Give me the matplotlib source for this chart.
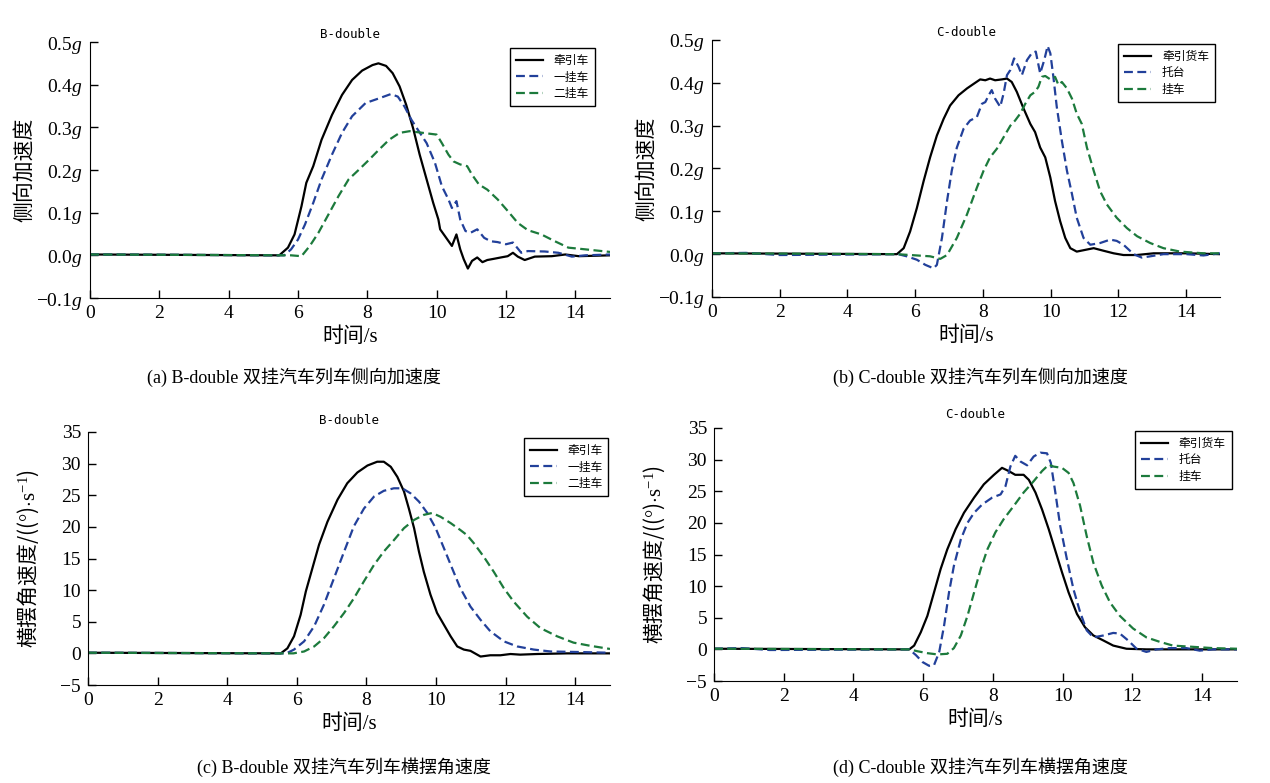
import matplotlib
matplotlib.use("Agg")
import matplotlib.pyplot as plt

plt.rcParams["font.family"] = ["Liberation Serif", "Noto Sans CJK SC"]
plt.rcParams["mathtext.fontset"] = "custom"
plt.rcParams["mathtext.rm"] = "Liberation Serif"
plt.rcParams["mathtext.it"] = "Liberation Serif:italic"
plt.rcParams["axes.unicode_minus"] = True

# ---- (a) B-double lateral acceleration (g) ----
a_t_tractor = [0, 5.46, 5.71, 5.90, 6.10, 6.24, 6.44, 6.68, 6.98, 7.27, 7.56, 7.85, 8.15, 8.32,
               8.54, 8.73, 8.93, 9.12, 9.32, 9.51, 9.71, 9.90, 10.05, 10.10, 10.24, 10.44,
               10.57, 10.68, 10.78, 10.90, 11.02, 11.17, 11.32, 11.46, 11.66, 11.85, 12.05,
               12.20, 12.34, 12.54, 12.83, 13.32, 13.71, 14.10, 15.0]
a_v_tractor = [0.002, 0, 0.018, 0.049, 0.115, 0.170, 0.209, 0.271, 0.329, 0.376, 0.411, 0.433,
               0.446, 0.450, 0.444, 0.427, 0.396, 0.353, 0.298, 0.236, 0.178, 0.123, 0.084,
               0.061, 0.045, 0.022, 0.049, 0.014, -0.009, -0.031, -0.013, -0.005, -0.016,
               -0.011, -0.008, -0.005, -0.002, 0.006, -0.003, -0.011, -0.003, -0.002, 0.002,
               -0.002, 0]
a_t_first = [0, 5.6, 5.80, 6.0, 6.20, 6.44, 6.68, 6.98, 7.27, 7.56, 7.95, 8.34, 8.68, 8.88,
             9.07, 9.27, 9.46, 9.71, 9.95, 10.15, 10.34, 10.44, 10.57, 10.68, 10.83, 10.98,
             11.17, 11.37, 11.56, 11.76, 12.0, 12.20, 12.44, 12.63, 13.12, 13.51, 13.90,
             14.29, 15.0]
a_v_first = [0.002, 0, 0.014, 0.037, 0.072, 0.123, 0.178, 0.236, 0.287, 0.326, 0.357, 0.368,
             0.378, 0.372, 0.349, 0.318, 0.294, 0.263, 0.217, 0.162, 0.131, 0.111, 0.127,
             0.084, 0.057, 0.053, 0.061, 0.041, 0.033, 0.031, 0.026, 0.030, 0.006, 0.010,
             0.009, 0.006, -0.003, 0, 0.002]
a_t_second = [0, 5.8, 6.10, 6.34, 6.59, 6.88, 7.17, 7.46, 7.76, 8.05, 8.34, 8.63, 8.93, 9.22,
              9.51, 9.80, 10.0, 10.15, 10.34, 10.49, 10.68, 10.88, 11.02, 11.22, 11.46,
              11.76, 12.05, 12.34, 12.63, 13.02, 13.41, 13.80, 14.29, 15.0]
a_v_second = [0.002, 0, -0.002, 0.022, 0.053, 0.096, 0.139, 0.178, 0.201, 0.224, 0.248, 0.271,
              0.287, 0.291, 0.288, 0.285, 0.283, 0.263, 0.236, 0.220, 0.213, 0.209, 0.189,
              0.166, 0.154, 0.131, 0.104, 0.076, 0.059, 0.049, 0.033, 0.018, 0.014, 0.008]

# ---- (b) C-double lateral acceleration (g) ----
b_t_tractor = [0, 5.46, 5.66, 5.85, 6.05, 6.25, 6.44, 6.64, 6.84, 7.03, 7.28, 7.53, 7.77, 7.92,
               8.07, 8.21, 8.36, 8.56, 8.71, 8.85, 9.0, 9.20, 9.40, 9.54, 9.69, 9.84, 9.99,
               10.13, 10.28, 10.43, 10.58, 10.77, 11.02, 11.27, 11.56, 11.86, 12.15, 12.54,
               13.04, 14.02, 15.0]
b_v_tractor = [0.002, 0, 0.014, 0.053, 0.108, 0.171, 0.226, 0.277, 0.316, 0.347, 0.371, 0.387,
               0.400, 0.408, 0.406, 0.410, 0.406, 0.408, 0.410, 0.402, 0.379, 0.340, 0.304,
               0.285, 0.249, 0.226, 0.179, 0.124, 0.077, 0.038, 0.014, 0.006, 0.010, 0.014,
               0.008, 0.002, -0.002, -0.002, 0.002, 0.002, 0]
b_t_dolly = [0, 1.0, 2.0, 5.5, 5.75, 6.05, 6.30, 6.54, 6.64, 6.79, 6.94, 7.08, 7.23, 7.43,
             7.62, 7.82, 7.97, 8.07, 8.17, 8.26, 8.36, 8.51, 8.61, 8.71, 8.81, 8.92, 9.05,
             9.15, 9.30, 9.44, 9.56, 9.69, 9.81, 9.91, 9.99, 10.08, 10.18, 10.33, 10.48,
             10.63, 10.77, 10.97, 11.17, 11.46, 11.76, 11.95, 12.15, 12.45, 12.69, 12.94,
             13.33, 14.02, 14.51, 15.0]
b_v_dolly = [0.002, 0.003, -0.002, 0, -0.005, -0.013, -0.025, -0.033, -0.025, 0.038, 0.124,
             0.195, 0.249, 0.293, 0.312, 0.320, 0.351, 0.355, 0.371, 0.383, 0.363, 0.344,
             0.375, 0.418, 0.430, 0.457, 0.438, 0.418, 0.453, 0.469, 0.473, 0.422, 0.453,
             0.486, 0.469, 0.414, 0.344, 0.265, 0.195, 0.140, 0.085, 0.038, 0.022, 0.026,
             0.034, 0.031, 0.022, 0, -0.008, -0.005, 0, 0, -0.003, 0.002]
b_t_trailer = [0, 5.46, 6.05, 6.44, 6.74, 6.94, 7.23, 7.53, 7.82, 8.02, 8.21, 8.41, 8.61, 8.81,
               8.95, 9.10, 9.25, 9.40, 9.54, 9.64, 9.74, 9.84, 9.99, 10.13, 10.23, 10.33,
               10.48, 10.63, 10.77, 10.92, 11.07, 11.27, 11.46, 11.66, 11.95, 12.25, 12.55,
               12.94, 13.33, 13.82, 14.51, 15.0]
b_v_trailer = [0.002, 0, -0.003, -0.005, -0.011, -0.002, 0.038, 0.093, 0.155, 0.195, 0.226,
               0.246, 0.273, 0.300, 0.312, 0.328, 0.351, 0.371, 0.379, 0.391, 0.414, 0.416,
               0.408, 0.414, 0.395, 0.402, 0.387, 0.363, 0.328, 0.304, 0.249, 0.195, 0.147,
               0.116, 0.085, 0.061, 0.042, 0.026, 0.014, 0.006, 0.002, 0.002]

# ---- (c) B-double yaw rate (deg/s) ----
c_t_tractor = [0, 5.54, 5.73, 5.92, 6.11, 6.26, 6.45, 6.64, 6.88, 7.17, 7.45, 7.74, 8.03, 8.31,
               8.50, 8.70, 8.89, 9.08, 9.22, 9.37, 9.51, 9.65, 9.84, 10.03, 10.23, 10.42,
               10.61, 10.80, 10.99, 11.28, 11.56, 11.85, 12.14, 12.42, 12.90, 13.76, 15.0]
c_v_tractor = [0.1, 0, 0.8, 2.7, 6.1, 9.8, 13.5, 17.2, 20.8, 24.3, 26.9, 28.6, 29.7, 30.3,
               30.3, 29.5, 27.9, 25.6, 22.9, 19.8, 16.1, 12.9, 9.3, 6.4, 4.5, 2.7, 1.1, 0.6,
               0.4, -0.5, -0.3, -0.3, -0.1, -0.2, -0.1, 0, 0]
c_t_first = [0, 5.7, 5.92, 6.21, 6.50, 6.78, 7.07, 7.36, 7.64, 7.93, 8.22, 8.50, 8.79, 9.03,
             9.27, 9.51, 9.75, 9.99, 10.23, 10.46, 10.70, 10.99, 11.28, 11.56, 11.95, 12.33,
             12.81, 13.29, 14.24, 15.0]
c_v_first = [0.1, 0, 0.6, 1.9, 4.3, 7.7, 11.9, 16.1, 20.1, 22.9, 24.8, 25.7, 26.1, 26.1, 25.3,
             24.0, 22.2, 19.8, 16.6, 13.5, 10.3, 7.4, 5.3, 3.5, 1.9, 1.1, 0.6, 0.3, 0.2, 0.1]
c_t_second = [0, 5.9, 6.21, 6.50, 6.78, 7.07, 7.36, 7.64, 7.93, 8.22, 8.50, 8.79, 9.08, 9.37,
              9.65, 9.89, 10.13, 10.42, 10.70, 10.89, 11.09, 11.37, 11.66, 11.95, 12.23,
              12.62, 13.00, 13.48, 13.95, 14.43, 15.0]
c_v_second = [0.1, 0, 0.3, 1.1, 2.4, 4.3, 6.4, 8.7, 11.4, 14.0, 16.1, 17.9, 19.8, 21.1, 21.9,
              22.2, 21.6, 20.6, 19.5, 18.7, 17.4, 15.3, 12.9, 10.3, 8.2, 5.8, 4.0, 2.7, 1.7,
              1.2, 0.7]

# ---- (d) C-double yaw rate (deg/s) ----
d_t_tractor = [0, 5.6, 5.74, 5.93, 6.12, 6.31, 6.50, 6.69, 6.93, 7.17, 7.46, 7.74, 8.03, 8.26,
               8.45, 8.64, 8.88, 9.03, 9.22, 9.41, 9.60, 9.79, 9.98, 10.17, 10.41, 10.64,
               10.88, 11.17, 11.45, 11.83, 12.40, 15.0]
d_v_tractor = [0.1, 0, 0.6, 2.7, 5.3, 9.0, 12.7, 15.8, 19.0, 21.6, 24.0, 26.1, 27.6, 28.7,
               28.2, 27.6, 27.6, 26.8, 24.8, 22.1, 19.0, 15.6, 12.2, 9.0, 5.6, 3.5, 2.2, 1.4,
               0.6, 0.1, 0, 0]
d_t_dolly = [0, 0.8, 1.6, 5.6, 5.79, 5.98, 6.17, 6.31, 6.46, 6.60, 6.74, 6.88, 7.08, 7.27,
             7.46, 7.69, 7.98, 8.22, 8.36, 8.50, 8.64, 8.79, 8.98, 9.17, 9.36, 9.55, 9.66,
             9.79, 9.93, 10.12, 10.31, 10.50, 10.69, 10.88, 11.17, 11.45, 11.64, 11.88, 12.12,
             12.40, 12.69, 13.07, 13.55, 13.93, 14.31, 15.0]
d_v_dolly = [0.1, 0.2, -0.1, 0, -0.9, -2.0, -2.6, -2.5, -0.4, 3.8, 9.0, 13.2, 17.4, 20.0, 21.6,
             22.9, 24.0, 24.5, 25.8, 28.9, 30.6, 29.7, 29.1, 30.5, 31.1, 31.0, 29.5, 24.8,
             19.5, 14.3, 9.5, 5.9, 3.0, 1.9, 2.2, 2.6, 2.5, 1.4, 0.1, -0.4, 0, 0.2, 0.2,
             -0.2, 0, 0]
d_t_trailer = [0, 5.6, 5.84, 6.12, 6.41, 6.69, 6.88, 7.08, 7.27, 7.46, 7.65, 7.84, 8.07, 8.31,
               8.60, 8.88, 9.17, 9.41, 9.60, 9.74, 9.98, 10.17, 10.31, 10.50, 10.69, 10.88,
               11.12, 11.36, 11.64, 12.02, 12.40, 12.78, 13.16, 13.74, 14.31, 15.0]
d_v_trailer = [0.1, 0, -0.3, -0.6, -0.8, -0.7, 0.2, 2.2, 5.3, 9.0, 12.7, 15.8, 18.5, 20.6,
               22.7, 24.8, 26.6, 28.2, 29.2, 28.9, 28.7, 27.9, 26.3, 22.7, 17.9, 13.7, 10.1,
               7.4, 5.3, 3.3, 1.9, 1.2, 0.6, 0.4, 0.2, 0.1]

labels_b = ["牵引车", "一挂车", "二挂车"]
labels_c = ["牵引货车", "托台", "挂车"]
acc_ticks = [-0.1, 0.0, 0.1, 0.2, 0.3, 0.4, 0.5]
acc_ticklabels = ["\u22120.1$g$", "0.0$g$", "0.1$g$", "0.2$g$", "0.3$g$", "0.4$g$", "0.5$g$"]
yaw_ticks = [-5, 0, 5, 10, 15, 20, 25, 30, 35]
x_ticks = [0, 2, 4, 6, 8, 10, 12, 14]

BLACK = "#000000"
BLUE = "#22409a"
GREEN = "#1c7a3c"
CJK = ["Noto Sans CJK SC", "DejaVu Sans"]
SERIF_CJK = ["Liberation Serif", "Noto Sans CJK SC"]

fig = plt.figure(figsize=(12.7, 7.83), dpi=100)

# axes rectangles (pixels -> figure fraction)
W, H = 1270, 783
def rect(l, r, t, b):
    return [l / W, 1 - b / H, (r - l) / W, (b - t) / H]

ax_a = fig.add_axes(rect(90, 610, 42, 298))
ax_b = fig.add_axes(rect(712, 1220, 40, 297))
ax_c = fig.add_axes(rect(88, 610, 432, 685))
ax_d = fig.add_axes(rect(714, 1237, 428, 681))

# (axes, title, legend names, series..., kind, title pad, legend anchor)
panels = [
    (ax_a, "B-double", labels_b, (a_t_tractor, a_v_tractor), (a_t_first, a_v_first),
     (a_t_second, a_v_second), "acc", 3, (0.971, 0.976)),
    (ax_b, "C-double", labels_c, (b_t_tractor, b_v_tractor), (b_t_dolly, b_v_dolly),
     (b_t_trailer, b_v_trailer), "acc", 3, (0.990, 0.985)),
    (ax_c, "B-double", labels_b, (c_t_tractor, c_v_tractor), (c_t_first, c_v_first),
     (c_t_second, c_v_second), "yaw", 6, (0.997, 0.976)),
    (ax_d, "C-double", labels_c, (d_t_tractor, d_v_tractor), (d_t_dolly, d_v_dolly),
     (d_t_trailer, d_v_trailer), "yaw", 7, (0.990, 0.988)),
]

for ax, title, names, s1, s2, s3, kind, tpad, anchor in panels:
    ax.plot(*s1, color=BLACK, lw=1.6, ls="-", label=names[0])
    ax.plot(*s2, color=BLUE, lw=1.6, ls=(0, (4, 2)), label=names[1])
    ax.plot(*s3, color=GREEN, lw=1.6, ls=(0, (4, 2)), label=names[2])
    ax.set_xlim(0, 15)
    ax.set_xticks(x_ticks)
    if kind == "acc":
        ax.set_ylim(-0.1, 0.5)
        ax.set_yticks(acc_ticks)
        ax.set_yticklabels(acc_ticklabels)
        ax.set_ylabel("侧向加速度", family=CJK, fontsize=15, labelpad=1)
    else:
        ax.set_ylim(-5, 35)
        ax.set_yticks(yaw_ticks)
        # CJK font first (mathtext takes only the first family); unit part in math
        ax.set_ylabel(r"横摆角速度/(($\mathrm{°}$)$\cdot\mathrm{s}^{-1}$)", family=CJK,
                      fontsize=15, labelpad=14)
    ax.set_xlabel("时间/s", family=SERIF_CJK, fontsize=15, labelpad=4)
    for side in ("top", "right"):
        ax.spines[side].set_visible(False)
    ax.tick_params(direction="in", length=6, width=1, labelsize=14, pad=5)
    ax.set_title(title, family="DejaVu Sans Mono", fontsize=9, pad=tpad)
    leg = ax.legend(loc="upper right", bbox_to_anchor=anchor, borderaxespad=0,
                    prop={"family": CJK, "size": 8.5}, frameon=True, fancybox=False,
                    edgecolor="black", framealpha=1, handlelength=2.3, borderpad=0.5,
                    labelspacing=0.3, handletextpad=0.9)
    leg.get_frame().set_linewidth(1.0)

captions = [
    (294, 377, "(a) B-double 双挂汽车列车侧向加速度"),
    (980, 377, "(b) C-double 双挂汽车列车侧向加速度"),
    (344, 767, "(c) B-double 双挂汽车列车横摆角速度"),
    (980, 767, "(d) C-double 双挂汽车列车横摆角速度"),
]
for x, y, txt in captions:
    fig.text(x / W, 1 - y / H, txt, ha="center", va="center", fontsize=13, family=SERIF_CJK)

fig.savefig("out.png", dpi=100)
